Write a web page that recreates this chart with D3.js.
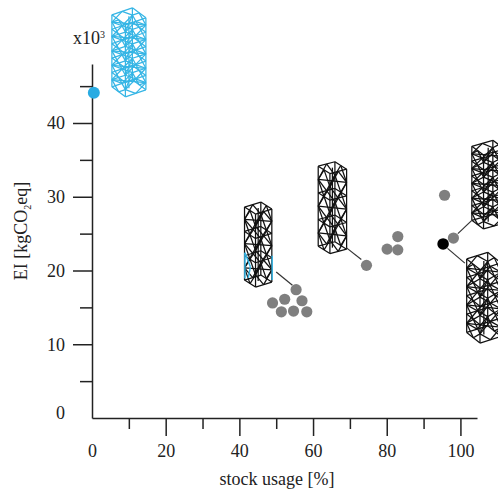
<!DOCTYPE html>
<html>
<head>
<meta charset="utf-8">
<title></title>
<script src="https://d3js.org/d3.v7.min.js"></script>
<style>
  body { margin: 0; background: #fff; }
  text { font-family: "Liberation Serif", serif; fill: #222; }
</style>
</head>
<body>
<div id="svgcontainer"></div>
<script>
var width = 498;
var height = 489;

// values
var stockUsage = [49.0, 52.3, 57.0, 55.4, 51.4, 54.7, 58.3, 74.5, 80.1, 83.0, 83.0, 95.7, 98.1];
var embodiedImpact = [15.6, 16.1, 15.9, 17.4, 14.4, 14.5, 14.4, 20.7, 22.9, 24.6, 22.8, 30.2, 24.4];
var blueUsage = [0.5];
var blueImpact = [44.1];
var blackUsage = [95.3];
var blackImpact = [23.6];
var xMajor = [0, 20, 40, 60, 80, 100];
var xMinor = [10, 30, 50, 70, 90];
var yMajor = [0, 10, 20, 30, 40];
var yMinor = [5, 15, 25, 35, 45];

var svg = d3.select("#svgcontainer")
    .append("svg")
    .attr("width", width)
    .attr("height", height)
    .style("display", "block");

var x = d3.scaleLinear().domain([0, 104.5]).range([92, 477]);
var y = d3.scaleLinear().domain([0, 48]).range([418, 64]);

function drawAxis(axis, tx, ty) {
    var g = svg.append("g")
        .attr("transform", "translate(" + tx + "," + ty + ")")
        .call(axis);
    g.selectAll("path, line").attr("stroke", "#222").attr("stroke-width", 1.5);
    return g;
}

var xAxis = drawAxis(d3.axisBottom(x).tickValues(xMajor).tickSize(18).tickSizeOuter(0), 0, 418);
xAxis.selectAll("line").filter(function(d) { return d === 0; }).remove();
xAxis.selectAll("text").attr("font-size", 18).attr("y", 26).attr("dy", "0.71em")
    .attr("font-family", "Liberation Serif").attr("fill", "#222");
drawAxis(d3.axisBottom(x).tickValues(xMinor).tickSize(11).tickSizeOuter(0).tickFormat(""), 0, 418)
    .select(".domain").remove();

var yAxis = drawAxis(d3.axisLeft(y).tickValues(yMajor).tickSize(19).tickSizeOuter(0), 92, 0);
yAxis.selectAll("line").filter(function(d) { return d === 0; }).remove();
yAxis.selectAll("text").attr("font-size", 18).attr("x", -27)
    .attr("font-family", "Liberation Serif").attr("fill", "#222");
yAxis.selectAll("text").filter(function(d) { return d === 0; }).attr("dy", "0.05em");
drawAxis(d3.axisLeft(y).tickValues(yMinor).tickSize(12).tickSizeOuter(0).tickFormat(""), 92, 0)
    .select(".domain").remove();

svg.append("text").attr("x", 277).attr("y", 485).attr("text-anchor", "middle")
    .attr("font-size", 18).text("stock usage [%]");

var yLabel = svg.append("text")
    .attr("transform", "translate(27,231) rotate(-90)")
    .attr("text-anchor", "middle")
    .attr("font-size", 18);
yLabel.append("tspan").text("EI [kgCO");
yLabel.append("tspan").attr("font-size", 10).attr("dy", 4).text("2");
yLabel.append("tspan").attr("dy", -4).text("eq]");

var mult = svg.append("text").attr("x", 73).attr("y", 44).attr("font-size", 18);
mult.append("tspan").text("x10");
mult.append("tspan").attr("font-size", 10).attr("dy", -6).text("3");

// truss pictograms, anchored on their lower left corner in chart units
// ax,ay / bx,by are the plan vectors of the box, hgt its height, n the bays
function truss(u, v, hgt, ax, ay, bx, by, n, colour) {
    var ox = x(u), oy = y(v);
    function p(s, t, k) {
        return [ox + s * ax + t * bx, oy + s * ay + t * by - k / n * hgt];
    }
    var segs = [];
    function add(a, b) { segs.push([a, b]); }
    var corners = [[0, 0], [1, 0], [1, 1], [0, 1]];
    corners.forEach(function(c) { add(p(c[0], c[1], 0), p(c[0], c[1], n)); });
    for (var k = 0; k <= n; k++) {
        corners.forEach(function(c, i) {
            var d = corners[(i + 1) % 4];
            var mx = (c[0] + d[0]) / 2, my = (c[1] + d[1]) / 2;
            add(p(c[0], c[1], k), p(d[0], d[1], k));
            if (k < n) {
                // each face is a diamond between the rings
                add(p(mx, my, k), p(c[0], c[1], k + 0.5));
                add(p(mx, my, k), p(d[0], d[1], k + 0.5));
                add(p(mx, my, k + 1), p(c[0], c[1], k + 0.5));
                add(p(mx, my, k + 1), p(d[0], d[1], k + 0.5));
                // and tied back to the centre line
                add(p(c[0], c[1], k + 0.5), p(0.5, 0.5, k + 0.5));
            }
        });
    }
    add(p(0.5, 0.5, 0), p(0.5, 0.5, n));
    svg.append("g").selectAll("line").data(segs).enter().append("line")
        .attr("x1", function(d) { return d[0][0]; })
        .attr("y1", function(d) { return d[0][1]; })
        .attr("x2", function(d) { return d[1][0]; })
        .attr("y2", function(d) { return d[1][1]; })
        .attr("stroke", colour)
        .attr("stroke-width", 1.25);
}

truss(5.4, 44.9, 72, 13.5, 10, 20.5, -7, 5, "#35b5e5");
truss(41.4, 18.7, 73, 11, 7, 16.3, -5, 3, "#111");
truss(61.4, 23.3, 80, 11.7, 7.4, 16.7, -4.4, 3, "#111");
truss(103.1, 26.8, 74, 11.7, 8.6, 21, -6, 5, "#111");
truss(101.7, 11.6, 73.5, 13.3, 10.6, 21, -6.6, 4, "#111");

// blue members on the lowest bay of the first pictogram, over the black
var blueEdges = [
    [41.5, 18.9, 41.5, 22.4],
    [48.9, 18.7, 48.9, 22.0],
    [41.5, 22.4, 43.0, 20.5],
    [43.0, 20.5, 42.4, 19.0]
];
svg.append("g").selectAll("line").data(blueEdges).enter().append("line")
    .attr("x1", function(d) { return x(d[0]); })
    .attr("y1", function(d) { return y(d[1]); })
    .attr("x2", function(d) { return x(d[2]); })
    .attr("y2", function(d) { return y(d[3]); })
    .attr("stroke", "#35b5e5").attr("stroke-width", 1.5);

// leader lines from the pictogram to its point
var leaders = [
    [50.0, 19.8, 54.4, 18.0],
    [69.0, 23.1, 73.1, 21.5],
    [103.1, 26.8, 99.3, 25.0],
    [96.5, 23.0, 101.2, 21.0]
];
svg.append("g").selectAll("line").data(leaders).enter().append("line")
    .attr("x1", function(d) { return x(d[0]); })
    .attr("y1", function(d) { return y(d[1]); })
    .attr("x2", function(d) { return x(d[2]); })
    .attr("y2", function(d) { return y(d[3]); })
    .attr("stroke", "#333")
    .attr("stroke-width", 1.2);

svg.append("g").selectAll("circle").data(d3.zip(stockUsage, embodiedImpact)).enter().append("circle")
    .attr("cx", function(d) { return x(d[0]); })
    .attr("cy", function(d) { return y(d[1]); })
    .attr("r", 5.6)
    .attr("fill", "#7f7f7f");

svg.append("g").selectAll("circle").data(d3.zip(blueUsage, blueImpact)).enter().append("circle")
    .attr("cx", function(d) { return x(d[0]); })
    .attr("cy", function(d) { return y(d[1]); })
    .attr("r", 6)
    .attr("fill", "#29abe2");

svg.append("g").selectAll("circle").data(d3.zip(blackUsage, blackImpact)).enter().append("circle")
    .attr("cx", function(d) { return x(d[0]); })
    .attr("cy", function(d) { return y(d[1]); })
    .attr("r", 5.8)
    .attr("fill", "#000");
</script>
</body>
</html>
